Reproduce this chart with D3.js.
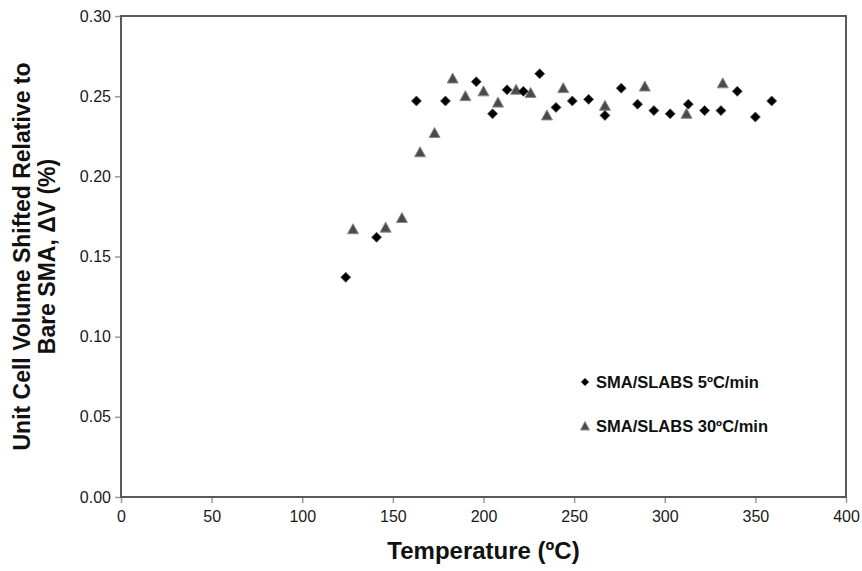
<!DOCTYPE html>
<html>
  <head>
    <meta charset="utf-8" />
    <title>Unit cell volume shift</title>
    <script src="https://d3js.org/d3.v7.min.js"></script>
    <style>
        body {margin: 0; background: #fff;}
        svg {font-family: "Liberation Sans", Arial, sans-serif;}
        .tick text {font-size: 16px; fill: #1a1a1a;}
        .title {font-weight: bold; fill: #111;}
    </style>
  </head>
  <body>

    <svg id="chart" width="862" height="571"></svg>

    <script>

        // SMA/SLABS 5ºC/min (diamonds)
        var tempSlow = [124, 141, 163, 179, 196, 205, 213, 222, 231, 240, 249, 258,
                        267, 276, 285, 294, 303, 313, 322, 331, 340, 350, 359];
        var dvSlow   = [0.137, 0.162, 0.247, 0.247, 0.259, 0.239, 0.254, 0.253, 0.264, 0.243, 0.247, 0.248,
                        0.238, 0.255, 0.245, 0.241, 0.239, 0.245, 0.241, 0.241, 0.253, 0.237, 0.247];

        // SMA/SLABS 30ºC/min (triangles)
        var tempFast = [128, 146, 155, 165, 173, 183, 190, 200, 208, 218, 226, 235,
                        244, 267, 289, 312, 332];
        var dvFast   = [0.167, 0.168, 0.174, 0.215, 0.227, 0.261, 0.250, 0.253, 0.246, 0.254, 0.252, 0.238,
                        0.255, 0.244, 0.256, 0.239, 0.258];

        var xTicks = [0, 50, 100, 150, 200, 250, 300, 350, 400];
        var yTicks = [0, 0.05, 0.10, 0.15, 0.20, 0.25, 0.30];

        var margin = {top: 16, right: 16, bottom: 74, left: 121};
        var width = 862 - margin.left - margin.right;
        var height = 571 - margin.top - margin.bottom;

        var svg = d3.select("#chart");
        var g = svg.append("g")
                   .attr("transform", "translate(" + margin.left + "," + margin.top + ")");

        var x = d3.scaleLinear().domain([0, 400]).range([0, width]);
        var y = d3.scaleLinear().domain([0, 0.30]).range([height, 0]);

        // axes
        var xAxis = g.append("g")
                     .attr("transform", "translate(0," + height + ")")
                     .call(d3.axisBottom(x).tickValues(xTicks).tickSize(6).tickPadding(8));

        var yAxis = g.append("g")
                     .call(d3.axisLeft(y).tickValues(yTicks).tickSize(6).tickPadding(4)
                             .tickFormat(d3.format(".2f")));

        [xAxis, yAxis].forEach(function(a){
            a.select(".domain").remove();
            a.selectAll(".tick line").attr("stroke", "#999").attr("stroke-width", 1.5);
            a.selectAll(".tick text").attr("font-family", "Liberation Sans, Arial, sans-serif");
        });

        // plot frame
        g.append("rect")
         .attr("width", width)
         .attr("height", height)
         .attr("fill", "none")
         .attr("stroke", "#5a5a5a")
         .attr("stroke-width", 2);

        // markers
        var diamond = "M0,-5L5,0L0,5L-5,0Z";
        var triangle = "M0,-5.5L5.5,4.5L-5.5,4.5Z";

        var slow = tempSlow.map(function(t, i){ return {t: t, v: dvSlow[i]}; });
        var fast = tempFast.map(function(t, i){ return {t: t, v: dvFast[i]}; });

        g.selectAll(".fast").data(fast).enter().append("path")
         .attr("class", "fast")
         .attr("d", triangle)
         .attr("transform", function(d){ return "translate(" + x(d.t) + "," + y(d.v) + ")"; })
         .attr("fill", "#4a4a4a")
         .attr("stroke", "#8a8a8a")
         .attr("stroke-width", 1);

        g.selectAll(".slow").data(slow).enter().append("path")
         .attr("class", "slow")
         .attr("d", diamond)
         .attr("transform", function(d){ return "translate(" + x(d.t) + "," + y(d.v) + ")"; })
         .attr("fill", "#000")
         .attr("stroke", "#555")
         .attr("stroke-width", 0.8);

        // legend
        var legend = g.append("g").attr("transform", "translate(464,366)");
        legend.append("path").attr("d", "M0,-4L4,0L0,4L-4,0Z").attr("fill", "#000");
        legend.append("text").attr("class", "title").attr("x", 11).attr("y", 6)
              .style("font-size", "16.5px").text("SMA/SLABS 5ºC/min");
        legend.append("path").attr("d", "M0,-4.5L4.5,4L-4.5,4Z").attr("transform", "translate(0,44)")
              .attr("fill", "#4a4a4a").attr("stroke", "#8a8a8a");
        legend.append("text").attr("class", "title").attr("x", 11).attr("y", 50)
              .style("font-size", "16.5px").text("SMA/SLABS 30ºC/min");

        // axis titles
        svg.append("text").attr("class", "title")
           .attr("x", margin.left + width / 2).attr("y", 559)
           .attr("text-anchor", "middle")
           .style("font-size", "24px")
           .text("Temperature (ºC)");

        var yTitle = svg.append("text").attr("class", "title")
                        .attr("transform", "translate(30," + (margin.top + height / 2) + ") rotate(-90)")
                        .attr("text-anchor", "middle")
                        .style("font-size", "23px");
        yTitle.append("tspan").attr("x", 0).attr("dy", 0).text("Unit Cell Volume Shifted Relative to");
        yTitle.append("tspan").attr("x", 0).attr("dy", 25).text("Bare SMA, \u0394V (%)");

    </script>

  </body>
</html>
